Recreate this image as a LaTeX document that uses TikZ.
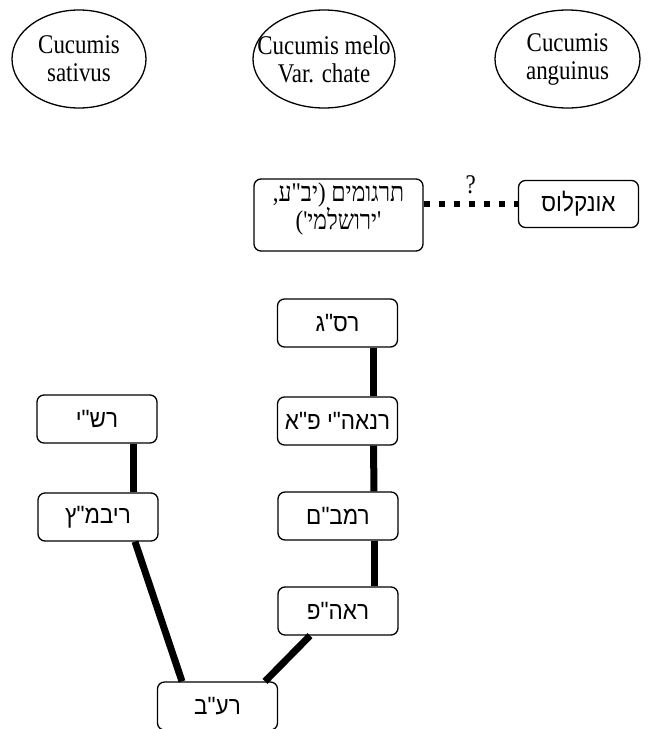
\documentclass[tikz,border=0pt]{standalone}
\usepackage{fontspec}
\setmainfont[FakeStretch=0.85]{Liberation Serif}
\newfontfamily\hebsans[Script=Hebrew,Ligatures=TeXOff,FakeStretch=0.9]{Liberation Sans}
\newfontfamily\hebserif[Script=Hebrew,Ligatures=TeXOff,FakeStretch=0.85]{Liberation Serif}
\TeXXeTstate=1
\usetikzlibrary{shapes.geometric}
\begin{document}
\begin{tikzpicture}[x=1pt,y=-1pt,
  species/.style={draw,ellipse,line width=1.3pt,inner xsep=-30pt,inner ysep=0pt,minimum height=98pt,align=center,font=\fontsize{27}{28}\selectfont},
  sourcebox/.style={draw,rounded corners=7pt,line width=1.3pt,minimum width=120pt,minimum height=48pt,inner sep=0pt,font=\hebsans\fontsize{25}{28}\selectfont},
  boxtext/.style={inner sep=0pt,align=center,font=\hebserif\fontsize{27}{23}\selectfont},
  link/.style={line width=7pt},
  doubtlink/.style={line width=6.5pt,dash pattern=on 6.5pt off 8.5pt}]
\useasboundingbox (0,0) rectangle (653,729);
\node[species,minimum width=134pt] (sat) at (79,59) {Cucumis\\sativus};
\node[species,minimum width=142pt] (melo) at (324,59) {Cucumis melo\\Var. chate};
\node[species,minimum width=145pt] (ang) at (567.5,59) {Cucumis\\anguinus};
\node[sourcebox,minimum width=169pt,minimum height=72pt] (targ) at (338.5,215) {};
\node[boxtext] (targtext) at ([yshift=6pt]targ.center) {\beginR תרגומים (יב"ע,\endR\\\beginR 'ירושלמי')\endR};
\node[sourcebox,minimum width=120pt,minimum height=47pt] (onk) at (578.5,204) {\beginR אונקלוס\endR};
\draw[doubtlink] (targ.east |- onk.west) -- node[above=4pt,font=\fontsize{27}{28}\selectfont] (q) {?} (onk.west);
\node[sourcebox] (rasag) at (337.5,323) {\beginR רס"ג\endR};
\node[sourcebox] (rnaey) at (337.5,421) {\beginR רנאה"י פ"א\endR};
\node[sourcebox] (rambam) at (338,516) {\beginR רמב"ם\endR};
\node[sourcebox] (raahp) at (338,611) {\beginR ראה"פ\endR};
\node[sourcebox] (rab) at (217.5,706) {\beginR רע"ב\endR};
\node[sourcebox] (rashi) at (97,419) {\beginR רש"י\endR};
\node[sourcebox] (rivmatz) at (98,517) {\beginR ריבמ"ץ\endR};
\draw[link] ([xshift=35.5pt]rasag.south) -- ([xshift=35.5pt]rnaey.north);
\draw[link] ([xshift=36pt]rnaey.south) -- ([xshift=36pt]rambam.north);
\draw[link] ([xshift=36pt]rambam.south) -- ([xshift=36pt]raahp.north);
\draw[link] ([xshift=36pt]rashi.south) -- ([xshift=35pt]rivmatz.north);
\draw[link] ([xshift=37pt]rivmatz.south) -- ([xshift=-35.5pt]rab.north);
\draw[link] ([xshift=-28pt]raahp.south) -- ([xshift=47.5pt]rab.north);
\end{tikzpicture}
\end{document}
